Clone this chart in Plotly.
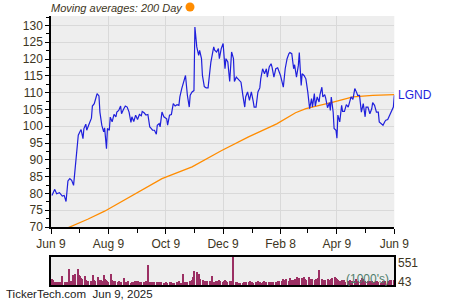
import pandas as pd
import plotly.graph_objects as go

start = pd.Timestamp("2024-06-09")
end = pd.Timestamp("2025-06-09")

# Daily closing price (days after Jun 9, 2024)
price_days = [1, 4, 6, 9, 12, 14, 16, 18, 20, 22, 24, 25, 27, 29, 31, 32, 34, 35, 37, 38, 40, 42, 43, 44, 46, 48, 49, 51, 52, 54, 56, 57, 59,
              60, 62, 63, 65, 67, 69, 70, 72, 74, 75, 77, 79, 81, 83, 85, 86, 88, 90, 92, 94, 96, 97, 99, 101, 103, 105, 106, 108, 110, 112, 113, 115, 116, 118,
              120, 123, 124, 126, 128, 130, 132, 134, 136, 137, 139, 141, 143, 145, 147, 148, 150, 152, 153, 155, 157, 158, 160, 161, 163, 165, 167, 169, 170, 173, 174, 176, 178, 179, 181,
              183, 185, 186, 188, 190, 192, 194, 195, 197, 199, 200, 202, 204, 206, 207, 209, 211, 213, 215, 216, 218, 220, 222, 223, 225, 227, 229, 230, 232, 234, 235, 237, 239, 241,
              244, 246, 247, 249, 251, 253, 254, 256, 258, 259, 261, 263, 264, 266, 267, 269, 271, 273, 274, 275, 277, 278, 280, 281, 283, 285, 286, 288, 289, 291, 292, 294, 296, 297, 298, 300, 301,
              303, 304, 305, 307, 309, 310, 312, 314, 316, 318, 319, 321, 323, 325, 326, 328, 330, 332, 334, 335, 337, 339, 341, 342, 344, 346, 348, 349, 351, 353, 355, 356, 358, 360, 362, 364, 365]
price_vals = [79.4, 81.2, 79.9, 80.2, 79.2, 79.4, 77.6, 83.7, 84.4, 83.9, 82.4, 85.9, 91.3, 97.3, 98.5, 99.0, 96.3, 99.3, 100.6, 98.8, 100.3, 101.4, 102.4, 106.0, 106.7, 108.7, 109.7, 109.0, 104.2, 100.3, 98.3, 99.5, 93.3,
              99.3, 98.8, 102.7, 101.3, 103.5, 102.8, 104.2, 104.7, 106.0, 103.7, 105.0, 106.0, 105.7, 104.2, 101.1, 102.8, 101.4, 103.3, 102.0, 103.5, 103.1, 104.4, 104.0, 103.3, 103.5, 99.8, 99.5, 98.8, 98.8, 97.6, 100.3, 100.8, 99.8, 104.2,
              102.8, 102.2, 100.3, 103.3, 103.5, 106.7, 106.0, 106.4, 106.2, 108.7, 111.2, 113.1, 115.1, 109.2, 105.7, 109.2, 110.2, 110.6, 129.5, 123.6, 121.1, 122.6, 120.1, 115.1, 111.8, 111.4, 111.4, 116.6, 119.1, 123.6, 122.6, 122.1, 123.1, 120.1, 123.1,
              124.6, 117.1, 120.1, 119.1, 113.3, 122.1, 120.1, 113.3, 114.6, 113.9, 113.9, 113.1, 109.2, 105.7, 108.7, 110.2, 107.7, 110.2, 107.4, 105.7, 105.7, 110.2, 111.4, 114.1, 117.1, 115.6, 117.1, 114.6, 117.6, 118.6, 117.6, 114.6, 117.1, 117.4,
              115.1, 112.6, 111.6, 117.1, 120.1, 121.6, 121.9, 121.6, 117.1, 118.3, 114.6, 118.1, 121.9, 112.1, 115.6, 115.1, 114.1, 110.2, 106.7, 105.2, 108.2, 105.7, 109.7, 106.0, 108.7, 107.2, 109.4, 111.6, 108.7, 109.4, 108.4, 105.5, 107.0, 104.7, 108.7, 104.2, 99.3,
              98.8, 96.4, 103.3, 101.3, 106.2, 104.4, 104.4, 106.4, 105.7, 107.7, 108.7, 108.0, 111.2, 110.0, 109.2, 109.2, 104.2, 106.7, 102.8, 105.7, 105.7, 103.7, 105.2, 107.0, 106.2, 104.2, 104.2, 101.3, 100.8, 100.3, 101.4, 101.8, 102.0, 103.3, 104.2, 105.7, 109.2]

# 200-day moving average
ma_days = [10, 20, 39, 57, 89, 118, 150, 181, 210, 240, 260, 271, 300, 321, 342, 365]
ma_vals = [68.8, 70.0, 72.3, 74.7, 79.9, 84.4, 87.9, 92.7, 96.8, 100.7, 104.0, 105.2, 107.2, 108.7, 109.2, 109.4]

# Daily volume (1000's), by month
vol_jun24 = [130, 95, 70, 60, 55, 60, 70, 65, 60, 175, 60, 55, 65, 70, 320]
vol_jul24 = [90, 80, 200, 40, 215, 325, 200, 180, 150, 120, 175, 110, 90, 80, 75, 80, 90, 195, 100, 80, 170, 110, 90]
vol_aug24 = [100, 90, 195, 120, 100, 80, 70, 215, 110, 90, 80, 75, 70, 65, 80, 70, 60, 150, 70, 60, 55, 80]
vol_sep24 = [40, 70, 65, 60, 80, 80, 90, 70, 60, 55, 60, 65, 90, 70, 390, 70, 60, 65, 70, 55, 60]
vol_oct24 = [60, 55, 50, 65, 50, 45, 55, 60, 50, 55, 70, 50, 45, 50, 60, 55, 75, 50, 45, 215, 60, 55, 70]
vol_nov24 = [70, 80, 90, 100, 160, 280, 250, 180, 150, 215, 120, 100, 90, 80, 85, 80, 90, 80, 175, 40, 60]
vol_dec24 = [80, 90, 70, 100, 85, 70, 80, 95, 75, 70, 65, 90, 80, 70, 551, 60, 55, 50, 40, 45, 50, 55]
vol_jan25 = [40, 70, 60, 65, 75, 60, 55, 50, 70, 60, 75, 55, 60, 40, 65, 80, 60, 55, 60, 50, 70, 55, 60]
vol_feb25 = [60, 70, 65, 80, 75, 90, 130, 110, 100, 120, 90, 140, 110, 100, 95, 130, 120, 170, 150, 140]
vol_mar25 = [150, 130, 170, 120, 110, 140, 160, 120, 100, 130, 110, 120, 100, 140, 290, 130, 110, 100, 90, 95, 120]
vol_apr25 = [100, 90, 130, 150, 160, 140, 120, 100, 90, 80, 100, 90, 110, 70, 80, 90, 100, 70, 85, 90, 120, 80]
vol_may25 = [90, 80, 100, 140, 120, 90, 80, 85, 90, 70, 75, 80, 70, 65, 75, 80, 60, 40, 70, 80, 75, 90]
vol_jun25 = [80, 85, 90, 100, 95, 110]

tick_dates = ["2024-06-09", "2024-08-09", "2024-10-09", "2024-12-09", "2025-02-08", "2025-04-09", "2025-06-09"]
tick_labels = ["Jun 9", "Aug 9", "Oct 9", "Dec 9", "Feb 8", "Apr 9", "Jun 9"]
minor_dates = ["2024-07-09", "2024-09-09", "2024-11-09", "2025-01-09", "2025-03-09", "2025-05-09"]
y_ticks = list(range(70, 131, 5))
vol_labels = ["551", "43"]

volume = (vol_jun24 + vol_jul24 + vol_aug24 + vol_sep24 + vol_oct24 + vol_nov24 + vol_dec24 +
          vol_jan25 + vol_feb25 + vol_mar25 + vol_apr25 + vol_may25 + vol_jun25)
vol_dates = pd.bdate_range("2024-06-10", "2025-06-09")
assert len(vol_dates) == len(volume)

price_dates = start + pd.to_timedelta(price_days, unit="D")
ma_dates = start + pd.to_timedelta(ma_days, unit="D")

FONT = "Liberation Sans, Arial, sans-serif"
TXT = "#3d3522"

fig = go.Figure()
fig.add_trace(go.Scatter(x=ma_dates, y=ma_vals, mode="lines",
                         line=dict(color="#FF8C00", width=1.3), xaxis="x", yaxis="y"))
fig.add_trace(go.Scatter(x=price_dates, y=price_vals, mode="lines",
                         line=dict(color="#1f1fdc", width=1.2), xaxis="x", yaxis="y"))
fig.add_trace(go.Bar(x=vol_dates, y=volume, marker=dict(color="#9b2f63", line=dict(width=0)),
                     width=1.5 * 86400000, xaxis="x2", yaxis="y2"))

xdom = [51 / 450, 394.3 / 450]
fig.update_layout(
    width=450, height=300, margin=dict(l=0, r=0, t=0, b=0, autoexpand=False),
    paper_bgcolor="white", plot_bgcolor="#EEEEEE", showlegend=False,
    font=dict(family=FONT, size=12, color=TXT),
    bargap=0,
    xaxis=dict(domain=xdom, anchor="y", type="date", range=[start, end], automargin=False,
               tickmode="array", tickvals=tick_dates, ticktext=tick_labels,
               ticks="outside", ticklen=5, tickcolor="black", tickwidth=1,
               showline=True, linecolor="black", linewidth=1.5,
               showgrid=True, gridcolor="#D9D9D9", gridwidth=1, zeroline=False,
               tickfont=dict(size=12, color=TXT),
               minor=dict(tickvals=minor_dates, ticks="outside", ticklen=4, tickcolor="black", showgrid=False)),
    yaxis=dict(domain=[1 - 227 / 300, 1 - 16 / 300], anchor="x", range=[70, 132.8], automargin=False,
               tickmode="array", tickvals=y_ticks,
               ticks="outside", ticklen=4, tickcolor="black",
               showline=True, linecolor="black", linewidth=1.5,
               showgrid=True, gridcolor="#D9D9D9", gridwidth=1, zeroline=False,
               tickfont=dict(size=12, color=TXT),
               minor=dict(dtick=2.5, tick0=70, ticks="outside", ticklen=3, tickcolor="black", showgrid=False)),
    xaxis2=dict(domain=xdom, anchor="y2", type="date", range=[start, end], automargin=False,
                showticklabels=False, ticks="", showgrid=False, zeroline=False,
                showline=True, mirror=True, linecolor="black", linewidth=1.5),
    yaxis2=dict(domain=[1 - 285 / 300, 1 - 256.7 / 300], anchor="x2", range=[0, 551], automargin=False,
                showticklabels=False, ticks="", showgrid=False, zeroline=False,
                showline=True, mirror=True, linecolor="black", linewidth=1.5),
)

annotations = [
    dict(text="<i>Moving averages: 200 Day</i>", x=49 / 450, y=1 - 8 / 300, xref="paper", yref="paper",
         xanchor="left", yanchor="middle", showarrow=False, font=dict(size=11, color=TXT)),
    dict(text="LGND", x=396 / 450, y=price_vals[-1], xref="paper", yref="y",
         xanchor="left", yanchor="middle", showarrow=False, font=dict(size=12, color="#1f1fdc")),
    dict(text=vol_labels[0], x=396 / 450, y=1 - 262.7 / 300, xref="paper", yref="paper",
         xanchor="left", yanchor="middle", showarrow=False, font=dict(size=12, color=TXT)),
    dict(text=vol_labels[1], x=396 / 450, y=1 - 281.7 / 300, xref="paper", yref="paper",
         xanchor="left", yanchor="middle", showarrow=False, font=dict(size=12, color=TXT)),
    dict(text="(1000's)", x=391 / 450, y=1 - 279 / 300, xref="paper", yref="paper",
         xanchor="right", yanchor="middle", showarrow=False, font=dict(size=12, color="#4f7d6b")),
    dict(text="TickerTech.com  Jun 9, 2025", x=4 / 450, y=1 - 294.3 / 300, xref="paper", yref="paper",
         xanchor="left", yanchor="middle", showarrow=False, font=dict(size=11.5, color="#1a1a1a")),
]
fig.update_layout(annotations=annotations)
fig.add_shape(type="circle", xref="paper", yref="paper",
              x0=185.5 / 450, x1=194.5 / 450, y0=1 - 11.5 / 300, y1=1 - 2.5 / 300,
              fillcolor="#FF8C00", line=dict(width=0))

fig.write_html("out.html")
